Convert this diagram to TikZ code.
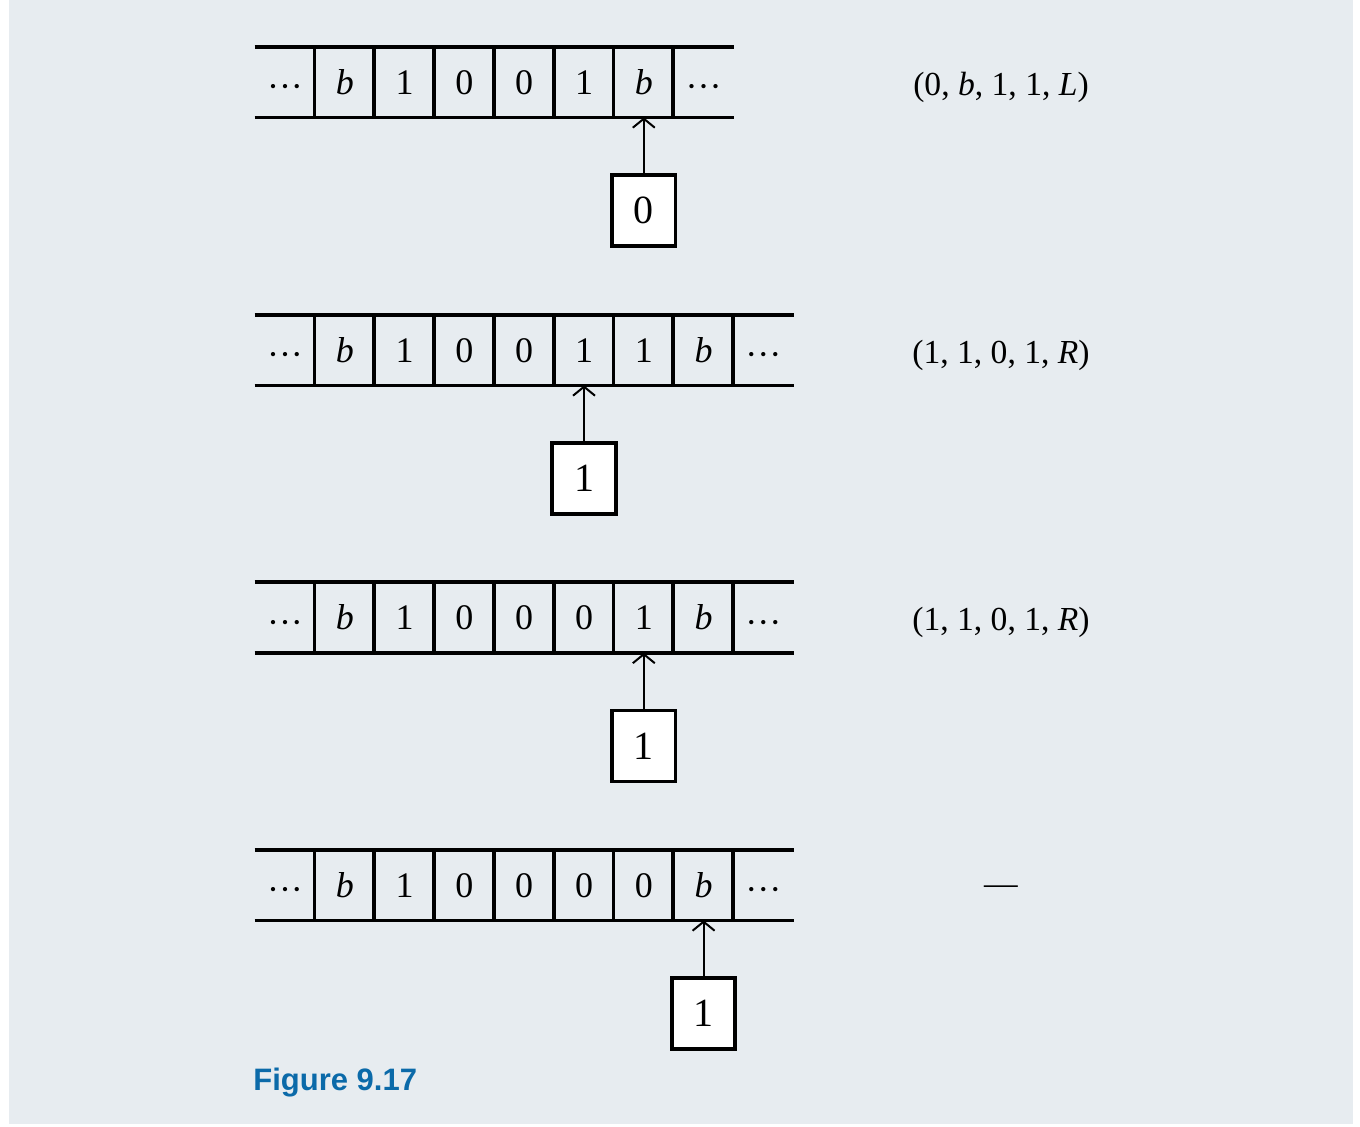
\documentclass[tikz,border=0pt]{standalone}
\usepackage{fontspec}
\setmainfont{Liberation Serif}
\newfontfamily\captionfont{Liberation Sans}
\usetikzlibrary{
    arrows.meta,
    positioning
}
\definecolor{panel gray}{HTML}{E7ECF0}
\definecolor{figure blue}{HTML}{0B6AA9}
\newcommand{\dotsym}{\raisebox{-0.12em}{\textperiodcentered\textperiodcentered\textperiodcentered}}
\tikzset{
    % Tape
    tape line/.style={line width=1.9pt},
    cell/.style={minimum width=29.9pt,minimum height=35pt,inner sep=0pt,text height=12.2pt,text depth=0pt,font=\fontsize{18}{18}\selectfont},
    %
    % Head
    head/.style={draw,line width=1.9pt,fill=white,minimum width=31.7pt,minimum height=35.5pt,inner sep=0pt,font=\fontsize{20}{20}\selectfont},
    head arrow/.style={-{Straight Barb[length=4.5pt,width=11pt]},line width=1pt},
    %
    % Labels
    move label/.style={font=\fontsize{16.8}{16.8}\selectfont},
    caption label/.style={anchor=base west,inner sep=0pt,text=figure blue,font=\captionfont\bfseries\fontsize{15.5}{15.5}\selectfont},
}

\begin{document}
\begin{tikzpicture}[x=0.5pt,y=-0.5pt]
    \useasboundingbox (0,0) rectangle (1360,1126);
    \fill[panel gray] (9,0) rectangle (1353,1124);
    \foreach \row/\ty/\ncells/\headcell/\state/\move/\cells in {
        1/82/8/6/0/{(0, \textit{b}, 1, 1, \textit{L})}/{\dotsym,\textit{b},1,0,0,1,\textit{b},\dotsym},
        2/350/9/5/1/{(1, 1, 0, 1, \textit{R})}/{\dotsym,\textit{b},1,0,0,1,1,\textit{b},\dotsym},
        3/617.5/9/6/1/{(1, 1, 0, 1, \textit{R})}/{\dotsym,\textit{b},1,0,0,0,1,\textit{b},\dotsym},
        4/885/9/7/1/{---}/{\dotsym,\textit{b},1,0,0,0,0,\textit{b},\dotsym}}
    {
        % cells of the tape
        \foreach \sym [count=\i from 0] in \cells
            \node[cell] (t\row c\i) at ({285+59.8*\i},\ty) {\sym};
        \pgfmathtruncatemacro{\lastcell}{\ncells-1}
        \draw[tape line] (t\row c0.north west) -- (t\row c\lastcell.north east);
        \draw[tape line] (t\row c0.south west) -- (t\row c\lastcell.south east);
        \foreach \i in {1,...,\lastcell}
            \draw[tape line] (t\row c\i.north west) -- (t\row c\i.south west);
        % read/write head
        \node[head] (h\row) at ({285+59.8*\headcell},{\ty+128.5}) {\state};
        \draw[head arrow] (h\row) -- (t\row c\headcell.south);
        \node[move label] (m\row) at (1001,{\ty+5}) {\move};
    }
    \node[caption label] (fig) at (253,1090) {Figure 9.17};
\end{tikzpicture}
\end{document}
